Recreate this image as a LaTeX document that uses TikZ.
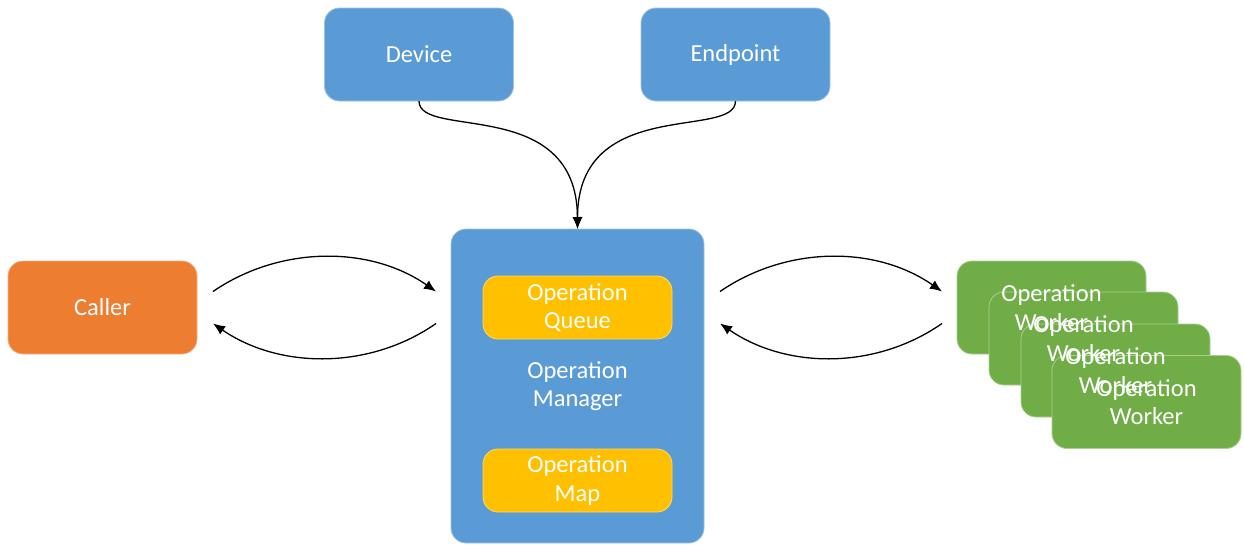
\documentclass[tikz,border=0pt]{standalone}
\usepackage{fontspec}
\setmainfont{Carlito}
\usepackage{tikz}
\usetikzlibrary{arrows.meta}
\definecolor{opblue}{HTML}{5B9BD5}
\definecolor{oporange}{HTML}{ED7D31}
\definecolor{opyellow}{HTML}{FFC000}
\definecolor{opgreen}{HTML}{70AD47}

\begin{document}
\begin{tikzpicture}[x=1pt,y=-1pt,
  boxtext/.style={text=white,align=center,font=\fontsize{24.5}{28.5}\selectfont,inner sep=0pt},
  box/.style={boxtext,shape=rectangle,rounded corners=15pt,draw=#1!60!white,fill=#1,line width=0.8pt,
    outer sep=0pt,minimum width=189pt,minimum height=93pt},
  link/.style={-{Latex[length=12pt,width=10pt]},line width=1.3pt}]
\useasboundingbox (0,0) rectangle (1244,544);

\node[box=opblue](device) at (419,54.5) {Device};
\node[box=opblue](endpoint) at (735.5,54.5) {Endpoint};
\node[box=oporange](caller) at (102.5,307.5) {Caller};
\node[box=opblue,minimum width=253pt,minimum height=314pt](manager) at (577.5,386) {Operation\\Manager};
\node[box=opyellow,minimum height=63pt](queue) at (577.5,307.5) {Operation\\Queue};
\node[box=opyellow,minimum height=63pt](map) at (577.5,480.5) {Operation\\Map};

% worker stack: boxes first, then all labels on top
\node[box=opgreen](workerA) at (1051.5,307.5) {};
\node[box=opgreen](workerB) at (1083.5,338.5) {};
\node[box=opgreen](workerC) at (1115.5,370.5) {};
\node[box=opgreen](workerD) at (1146.5,402) {};
\node[boxtext](labelA) at (workerA) {Operation\\Worker};
\node[boxtext](labelB) at (workerB) {Operation\\Worker};
\node[boxtext](labelC) at (workerC) {Operation\\Worker};
\node[boxtext](labelD) at (workerD) {Operation\\Worker};

% ends of the request / reply arcs
\coordinate (callerOut) at ([shift={(16,-16)}]caller.east);
\coordinate (callerIn) at ([shift={(16,16)}]caller.east);
\coordinate (mgrLeftIn) at ([shift={(-15,-16)}]manager.west |- caller.east);
\coordinate (mgrLeftOut) at ([shift={(-15,16)}]manager.west |- caller.east);
\coordinate (mgrRightOut) at ([shift={(16,-16)}]manager.east |- workerA.west);
\coordinate (mgrRightIn) at ([shift={(16,16)}]manager.east |- workerA.west);
\coordinate (workerIn) at ([shift={(-15,-16)}]workerA.west);
\coordinate (workerOut) at ([shift={(-15,16)}]workerA.west);

\draw[link] (device.south) .. controls (419,140) and (577,95) .. (manager.north);
\draw[link] (endpoint.south) .. controls (735.5,140) and (577.5,95) .. (manager.north);

\draw[link] (callerOut) .. controls ++(67,-46) and ++(-66,-46) .. (mgrLeftIn);
\draw[link] (mgrLeftOut) .. controls ++(-66,46) and ++(67,46) .. (callerIn);
\draw[link] (mgrRightOut) .. controls ++(67,-46) and ++(-66,-46) .. (workerIn);
\draw[link] (workerOut) .. controls ++(-66,46) and ++(67,46) .. (mgrRightIn);
\end{tikzpicture}
\end{document}
